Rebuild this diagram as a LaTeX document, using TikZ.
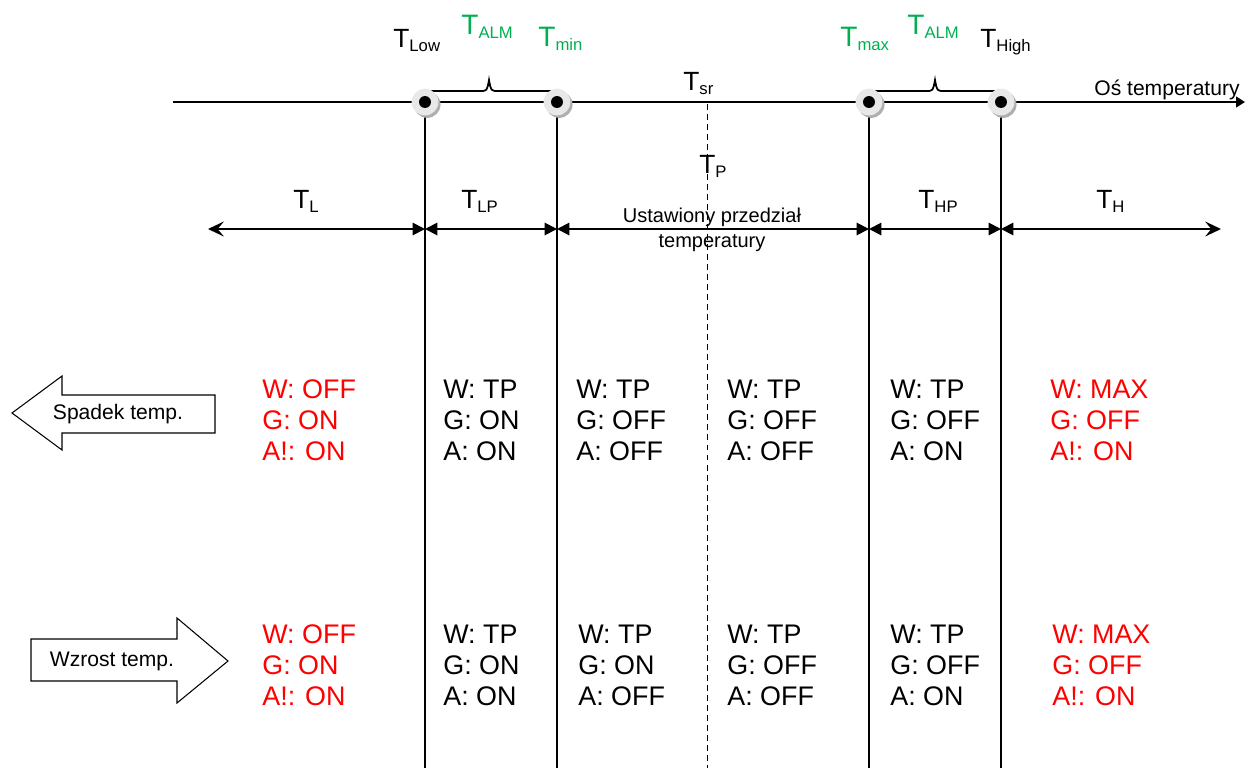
\documentclass[tikz,border=0pt]{standalone}
\usepackage{fontspec}
\setmainfont{Liberation Sans}
\usetikzlibrary{arrows.meta,calc}
\definecolor{tgreen}{RGB}{0,176,80}
\definecolor{halo}{RGB}{232,232,232}
\definecolor{haloshadow}{RGB}{175,175,175}
\newcommand\Tsub[1]{T\raisebox{-2.4pt}{\fontsize{9.5}{9.5}\selectfont #1}}
\begin{document}
\begin{tikzpicture}[x=0.02cm,y=-0.02cm,
  lbl/.style={inner sep=0pt,anchor=base west,font=\fontsize{15}{16}\selectfont},
  glbl/.style={lbl,text=tgreen,font=\fontsize{16}{16}\selectfont},
  state/.style={inner sep=0pt,anchor=west,align=left,font=\fontsize{15.3}{17.6}\selectfont},
  redstate/.style={state,text=red},
  vline/.style={line width=0.85pt},
  seg/.style={line width=1.1pt,{Triangle[length=7pt,width=7pt]}-{Triangle[length=7pt,width=7pt]}},
  bigarrow/.style={draw,fill=white,line width=0.6pt},
  pointmark/.style={circle,fill=black,inner sep=0pt,minimum size=6.8pt},
]
\useasboundingbox (0,0) rectangle (1245,768);

% axis
\coordinate (axs) at (173,102);
\coordinate (axe) at (1245,102);
\draw[line width=1.1pt,-{Triangle[length=5pt,width=6pt]}] (axs) -- (axe);
\node[inner sep=0pt,anchor=base east,font=\fontsize{12}{14}\selectfont] (osl) at (1240,95) {Oś temperatury};

% vertical lines
\foreach \n/\x in {1/425,2/557,3/869,4/1001}{
  \coordinate (p\n) at (\x,102);
  \coordinate (b\n) at (\x,768);
  \draw[vline] (p\n) -- (b\n);
}
\coordinate (dtop) at (707,104);
\coordinate (dbot) at (707,768);
\draw[line width=0.5pt,dash pattern=on 3.4pt off 2.3pt] (dtop) -- (dbot);

% braces
\draw[line width=1pt] (p1) .. controls (425,91) .. (437,91) -- (480,91)
  .. controls (487,91) .. (489,80) .. controls (491,91) .. (498,91) -- (545,91)
  .. controls (557,91) .. (p2);
\draw[line width=1pt] (p3) .. controls (869,91) .. (881,91) -- (926,91)
  .. controls (933,91) .. (935,80) .. controls (937,91) .. (944,91) -- (989,91)
  .. controls (1001,91) .. (p4);

% point markers
\foreach \n in {1,2,3,4}{
  \fill[haloshadow] ($(p\n)+(2.2,2.5)$) circle (7.6pt);
}
\foreach \n in {1,2,3,4}{
  \fill[halo] (p\n) circle (7.6pt);
  \node[pointmark] (m\n) at (p\n) {};
}

% top labels
\node[lbl] (tlow) at (393,47) {\Tsub{Low}};
\node[glbl] (talm1) at (461,34) {\Tsub{ALM}};
\node[glbl] (tmin) at (538,46) {\Tsub{min}};
\node[glbl] (tmax) at (840,46) {\Tsub{max}};
\node[glbl] (talm2) at (907,34) {\Tsub{ALM}};
\node[lbl] (thigh) at (980,47) {\Tsub{High}};
\node[lbl] (tsr) at (683,90) {\Tsub{sr}};
\node[lbl] (tp) at (699,173) {\Tsub{P}};

% range arrows
\coordinate (r0) at (208,229);
\coordinate (r1) at (425,229);
\coordinate (r2) at (557,229);
\coordinate (r3) at (869,229);
\coordinate (r4) at (1001,229);
\coordinate (r5) at (1221,229);
\draw[line width=1.1pt,{Stealth[length=9pt,width=8.5pt,inset=3.5pt]}-{Triangle[length=7pt,width=7pt]}] (r0) -- (r1);
\draw[seg] (r1) -- (r2);
\draw[seg] (r2) -- (r3);
\draw[seg] (r3) -- (r4);
\draw[line width=1.1pt,{Triangle[length=7pt,width=7pt]}-{Stealth[length=9pt,width=8.5pt,inset=3.5pt]}] (r4) -- (r5);

\node[lbl] (tl) at (293,208) {\Tsub{L}};
\node[lbl] (tlp) at (461,208) {\Tsub{LP}};
\node[lbl] (thp) at (918,208) {\Tsub{HP}};
\node[lbl] (th) at (1096,208) {\Tsub{H}};
\node[inner sep=0pt,align=center,font=\fontsize{11.4}{14}\selectfont] (ust) at (712,230) {Ustawiony przedział\\temperatury};

% big arrows
\draw[bigarrow] (12,413) -- (62,376) -- (62,395) -- (215,395) -- (215,433) -- (62,433) -- (62,450) -- cycle;
\node[inner sep=0pt,font=\fontsize{12}{14}\selectfont] (spadek) at (118,414) {Spadek temp.};
\draw[bigarrow] (228,661) -- (177,618) -- (177,639) -- (31,639) -- (31,681) -- (177,681) -- (177,703) -- cycle;
\node[inner sep=0pt,font=\fontsize{12}{14}\selectfont] (wzrost) at (112,661) {Wzrost temp.};

% upper states
\node[redstate] (u1) at (262,420) {W: OFF\\G: ON\\A!: ON};
\node[state] (u2) at (443,420) {W: TP\\G: ON\\A: ON};
\node[state] (u3) at (576,420) {W: TP\\G: OFF\\A: OFF};
\node[state] (u4) at (727,420) {W: TP\\G: OFF\\A: OFF};
\node[state] (u5) at (890,420) {W: TP\\G: OFF\\A: ON};
\node[redstate] (u6) at (1050,420) {W: MAX\\G: OFF\\A!: ON};

% lower states
\node[redstate] (l1) at (262,665) {W: OFF\\G: ON\\A!: ON};
\node[state] (l2) at (443,665) {W: TP\\G: ON\\A: ON};
\node[state] (l3) at (578,665) {W: TP\\G: ON\\A: OFF};
\node[state] (l4) at (727,665) {W: TP\\G: OFF\\A: OFF};
\node[state] (l5) at (890,665) {W: TP\\G: OFF\\A: ON};
\node[redstate] (l6) at (1052,665) {W: MAX\\G: OFF\\A!: ON};
\end{tikzpicture}
\end{document}
